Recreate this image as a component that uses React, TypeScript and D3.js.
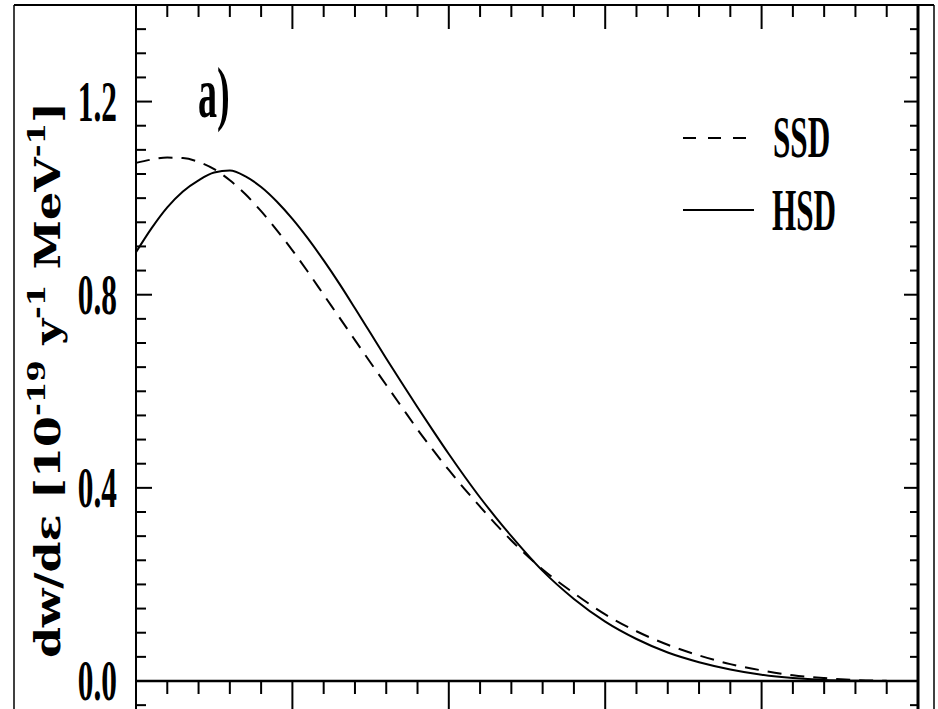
import React from "react";
import * as d3 from "d3";

const energies = [0, 0.05, 0.1, 0.15, 0.2, 0.25, 0.3, 0.35, 0.4, 0.45, 0.5, 0.55, 0.6, 0.65, 0.7, 0.75, 0.8, 0.85, 0.9, 0.95, 1.0, 1.05, 1.1, 1.15, 1.2, 1.3, 1.4, 1.5, 1.6, 1.7, 1.8, 1.9, 2.0, 2.1, 2.2, 2.3, 2.4];
const hsd = [0.888, 0.938, 0.981, 1.014, 1.037, 1.053, 1.057, 1.045, 1.023, 0.993, 0.957, 0.916, 0.871, 0.823, 0.772, 0.72, 0.668, 0.617, 0.567, 0.518, 0.47, 0.424, 0.38, 0.339, 0.3, 0.228, 0.17, 0.123, 0.087, 0.059, 0.039, 0.024, 0.013, 0.006, 0.002, 0.0005, 0];
const ssd = [1.073, 1.08, 1.084, 1.083, 1.075, 1.06, 1.037, 1.008, 0.973, 0.934, 0.892, 0.847, 0.8, 0.753, 0.706, 0.659, 0.613, 0.567, 0.521, 0.478, 0.437, 0.398, 0.361, 0.325, 0.291, 0.231, 0.182, 0.138, 0.103, 0.075, 0.053, 0.035, 0.022, 0.012, 0.006, 0.002, 0.0005];
const yTickLabels = ["0.0", "0.4", "0.8", "1.2"];
const seriesNames = ["SSD", "HSD"];

const X0 = 136, X1 = 918, Y0 = 681, YTOP = 5, YBOT = 709;

export default function App() {
  const x = d3.scaleLinear().domain([0, 2.5]).range([X0, X1]);
  const y = d3.scaleLinear().domain([0, 1.4]).range([Y0, YTOP]);

  const line = d3.line<[number, number]>().x(d => x(d[0])).y(d => y(d[1])).curve(d3.curveMonotoneX);
  const hsdPath = line(energies.map((e, i) => [e, hsd[i]] as [number, number])) || "";
  const ssdPath = line(energies.map((e, i) => [e, ssd[i]] as [number, number])) || "";

  const yTicks = d3.range(-1, 28).map(i => i * 0.05);
  const xTicks = d3.range(1, 25).map(i => i * 0.1);
  const isMajorY = (v: number) => Math.abs(v / 0.4 - Math.round(v / 0.4)) < 1e-6;
  const isMajorX = (v: number) => Math.abs(v / 0.5 - Math.round(v / 0.5)) < 1e-6;

  const condensed = "'Liberation Serif', 'Times New Roman', serif";

  return (
    <svg width={938} height={709} style={{ position: "absolute", left: 0, top: 0, background: "#fff" }}>
      <rect x={0} y={0} width={938} height={709} fill="#fff" />
      {/* outer frame */}
      <line x1={14} x2={934} y1={YTOP} y2={YTOP} stroke="#000" strokeWidth={2} />
      <line x1={14} x2={14} y1={YTOP} y2={YBOT} stroke="#000" strokeWidth={1.5} />
      <line x1={934} x2={934} y1={YTOP} y2={YBOT} stroke="#000" strokeWidth={1.5} />
      {/* axes */}
      <line x1={X0} x2={X0} y1={YTOP} y2={YBOT} stroke="#000" strokeWidth={2} />
      <line x1={X1} x2={X1} y1={YTOP} y2={YBOT} stroke="#000" strokeWidth={3} />
      <line x1={X0} x2={X1} y1={Y0} y2={Y0} stroke="#000" strokeWidth={2.5} />
      {yTicks.map((v, i) => {
        const m = isMajorY(v);
        return (
          <g key={"yt" + i}>
            <line x1={X0} x2={X0 + (m ? 16 : 10)} y1={y(v)} y2={y(v)} stroke="#000" strokeWidth={2} />
            <line x1={X1} x2={X1 - (m ? 14 : 8)} y1={y(v)} y2={y(v)} stroke="#000" strokeWidth={2} />
          </g>
        );
      })}
      {xTicks.map((v, i) => {
        const m = isMajorX(v);
        return (
          <g key={"xt" + i}>
            <line x1={x(v)} x2={x(v)} y1={YTOP} y2={YTOP + (m ? 24 : 12)} stroke="#000" strokeWidth={2} />
            <line x1={x(v)} x2={x(v)} y1={Y0} y2={Y0 + (m ? 28 : 13)} stroke="#000" strokeWidth={2} />
          </g>
        );
      })}
      {/* y tick labels */}
      {yTickLabels.map((t, i) => (
        <text key={"yl" + i} transform={`translate(117, ${y(+t) + 19}) scale(0.54, 1)`} textAnchor="end"
          fontFamily={condensed} fontWeight="bold" fontSize={58} fill="#000">{t}</text>
      ))}
      {/* y axis title */}
      <text transform="translate(60, 658) rotate(-90)" fontFamily="'DejaVu Serif', serif" fontWeight="bold" fontSize={36}
        textLength={556} lengthAdjust="spacingAndGlyphs" fill="#000">
        dw/dε [10<tspan dy={-15} fontSize={25}>-19</tspan><tspan dy={15}> y</tspan><tspan dy={-15} fontSize={25}>-1</tspan><tspan dy={15}> MeV</tspan><tspan dy={-15} fontSize={25}>-1</tspan><tspan dy={15}>]</tspan>
      </text>
      {/* panel label */}
      <text transform="translate(198, 117) scale(0.53, 1)" fontFamily={condensed} fontWeight="bold" fontSize={72} fill="#000">a)</text>
      {/* curves */}
      <path d={hsdPath} fill="none" stroke="#000" strokeWidth={2} />
      <path d={ssdPath} fill="none" stroke="#000" strokeWidth={2} strokeDasharray="14 9" />
      {/* legend */}
      <line x1={683} x2={748} y1={138} y2={138} stroke="#000" strokeWidth={2} strokeDasharray="13 12" />
      <text transform="translate(773, 157) scale(0.52, 1)" fontFamily={condensed} fontWeight="bold" fontSize={60} fill="#000">{seriesNames[0]}</text>
      <line x1={683} x2={754} y1={210} y2={210} stroke="#000" strokeWidth={2} />
      <text transform="translate(772, 230) scale(0.52, 1)" fontFamily={condensed} fontWeight="bold" fontSize={60} fill="#000">{seriesNames[1]}</text>
    </svg>
  );
}
